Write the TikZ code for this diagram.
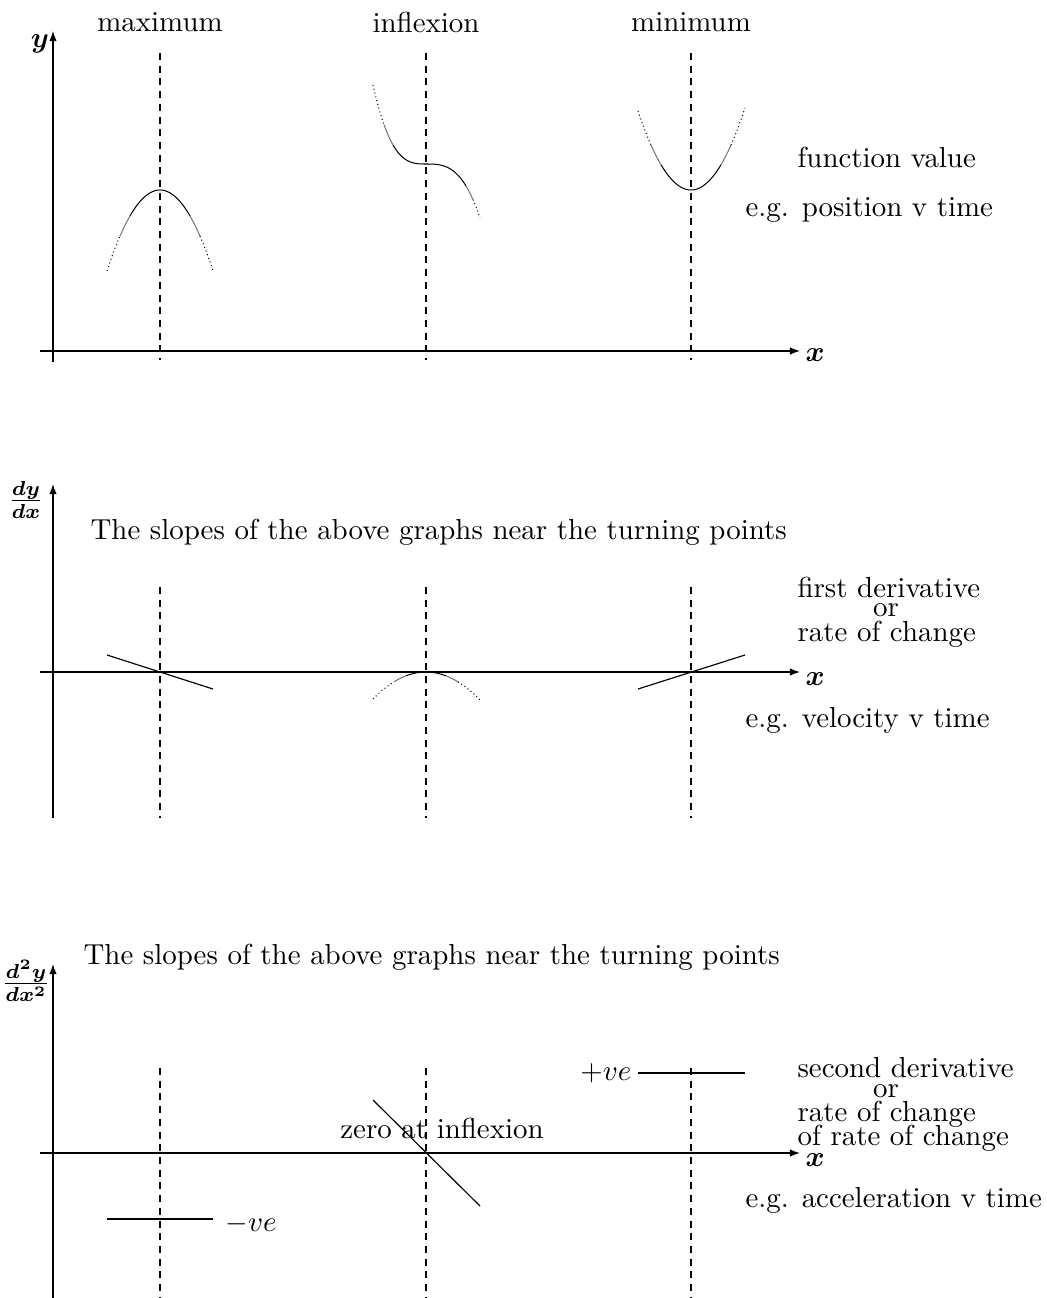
\documentclass[tikz,border=0pt]{standalone}
\usepackage{amsmath}
\usetikzlibrary{arrows.meta}
\begin{document}
\begin{tikzpicture}[x=0.346pt,y=-0.346pt,
  axis/.style={line width=0.45pt,-{Latex[length=3.5pt,width=2.6pt]}},
  guide/.style={dash pattern=on 2.4pt off 2pt,line width=0.4pt},
  curve/.style={line width=0.35pt},
  mid/.style={line width=0.35pt,black!55},
  fade/.style={line width=0.35pt,densely dotted},
  slope/.style={line width=0.4pt},
  txt/.style={inner sep=0pt,anchor=west},
  ctxt/.style={inner sep=0pt}]
\useasboundingbox (0,0) rectangle (1046,1298);

% ---------- top panel ----------
\coordinate (ya0) at (53,362); \coordinate (ya1) at (53,31);
\coordinate (xa0) at (40,351); \coordinate (xa1) at (800,351);
\draw[axis] (ya0) -- (ya1);
\draw[axis] (xa0) -- (xa1);
\node[ctxt] (yl) at (40,44) {$\boldsymbol{y}$};
\node[txt] (xl) at (805,355) {$\boldsymbol{x}$};
\foreach \n/\px in {a/160,b/426,c/691}{
  \coordinate (g1\n0) at (\px,53); \coordinate (g1\n1) at (\px,360);
  \draw[guide] (g1\n0) -- (g1\n1);
}
\node[ctxt] (tmax) at (160,22) {maximum};
\node[ctxt] (tinf) at (426,22) {inflexion};
\node[ctxt] (tmin) at (691,22) {minimum};
% maximum curve
\draw[curve] plot[domain=-30:30,samples=40] ({160+\x},{190+0.0288*\x*\x});
\draw[mid] plot[domain=-40:-30,samples=10] ({160+\x},{190+0.0288*\x*\x});
\draw[mid] plot[domain=30:40,samples=10] ({160+\x},{190+0.0288*\x*\x});
\draw[fade] plot[domain=-53:-40,samples=20] ({160+\x},{190+0.0288*\x*\x});
\draw[fade] plot[domain=40:53,samples=20] ({160+\x},{190+0.0288*\x*\x});
% inflexion curve (steeper on the left)
\draw[curve] plot[domain=-33:0,samples=40] ({426+\x},{164+0.531*(\x/10)^3});
\draw[curve] plot[domain=0:40,samples=40] ({426+\x},{164+0.343*(\x/10)^3});
\draw[mid] plot[domain=-42:-33,samples=10] ({426+\x},{164+0.531*(\x/10)^3});
\draw[mid] plot[domain=40:47,samples=10] ({426+\x},{164+0.343*(\x/10)^3});
\draw[fade] plot[domain=-53:-42,samples=20] ({426+\x},{164+0.531*(\x/10)^3});
\draw[fade] plot[domain=47:54,samples=20] ({426+\x},{164+0.343*(\x/10)^3});
% minimum curve
\draw[curve] plot[domain=-30:30,samples=40] ({691+\x},{190-0.0281*\x*\x});
\draw[mid] plot[domain=-40:-30,samples=10] ({691+\x},{190-0.0281*\x*\x});
\draw[mid] plot[domain=30:40,samples=10] ({691+\x},{190-0.0281*\x*\x});
\draw[fade] plot[domain=-53:-40,samples=20] ({691+\x},{190-0.0281*\x*\x});
\draw[fade] plot[domain=40:54,samples=20] ({691+\x},{190-0.0281*\x*\x});
\node[txt] (fv) at (797,157) {function value};
\node[txt] (pt) at (745,210) {e.g. position v time};

% ---------- middle panel ----------
\coordinate (yb0) at (53,818); \coordinate (yb1) at (53,484);
\coordinate (xb0) at (40,672); \coordinate (xb1) at (800,672);
\draw[axis] (yb0) -- (yb1);
\draw[axis] (xb0) -- (xb1);
\node[ctxt] (dyl) at (26,500) {$\boldsymbol{\frac{dy}{dx}}$};
\node[txt] (xl2) at (805,679) {$\boldsymbol{x}$};
\foreach \n/\px in {a/160,b/426,c/691}{
  \coordinate (g2\n0) at (\px,587); \coordinate (g2\n1) at (\px,818);
  \draw[guide] (g2\n0) -- (g2\n1);
}
\node[txt] (sl1) at (90,532) {The slopes of the above graphs near the turning points};
\coordinate (s1a) at (107,655); \coordinate (s1b) at (213,689);
\draw[slope] (s1a) -- (s1b);
\coordinate (s3a) at (638,689); \coordinate (s3b) at (745,655);
\draw[slope] (s3a) -- (s3b);
\draw[curve] plot[domain=-20:20,samples=20] ({426+\x},{672+0.00961*\x*\x});
\draw[mid] plot[domain=-32:-20,samples=10] ({426+\x},{672+0.00961*\x*\x});
\draw[mid] plot[domain=20:32,samples=10] ({426+\x},{672+0.00961*\x*\x});
\draw[fade] plot[domain=-53:-32,samples=20] ({426+\x},{672+0.00961*\x*\x});
\draw[fade] plot[domain=32:54,samples=20] ({426+\x},{672+0.00961*\x*\x});
\node[txt] (fd1) at (797,587) {first derivative};
\node[ctxt] (fd2) at (886,610) {or};
\node[txt] (fd3) at (797,634) {rate of change};
\node[txt] (vt) at (745,720) {e.g. velocity v time};

% ---------- bottom panel ----------
\coordinate (yc0) at (53,1298); \coordinate (yc1) at (53,964);
\coordinate (xc0) at (40,1153); \coordinate (xc1) at (800,1153);
\draw[axis] (yc0) -- (yc1);
\draw[axis] (xc0) -- (xc1);
\node[ctxt] (d2l) at (26,981) {$\boldsymbol{\frac{d^2y}{dx^2}}$};
\node[txt] (xl3) at (805,1160) {$\boldsymbol{x}$};
\foreach \n/\px in {a/160,b/426,c/691}{
  \coordinate (g3\n0) at (\px,1068); \coordinate (g3\n1) at (\px,1298);
  \draw[guide] (g3\n0) -- (g3\n1);
}
\node[txt] (sl2) at (83,957) {The slopes of the above graphs near the turning points};
\coordinate (n1a) at (107,1219); \coordinate (n1b) at (213,1219);
\draw[slope] (n1a) -- (n1b);
\node[txt] (neg) at (225,1224) {$-ve$};
\coordinate (p1a) at (638,1073); \coordinate (p1b) at (745,1073);
\draw[slope] (p1a) -- (p1b);
\node[inner sep=0pt,anchor=east] (pos) at (632,1073) {$+ve$};
\node[ctxt] (zi) at (442,1128) {zero at inflexion};
\coordinate (z1a) at (373,1100); \coordinate (z1b) at (480,1206);
\draw[slope] (z1a) -- (z1b);
\node[txt] (sd1) at (797,1068) {second derivative};
\node[ctxt] (sd2) at (886,1091) {or};
\node[txt] (sd3) at (797,1114) {rate of change};
\node[txt] (sd4) at (797,1138) {of rate of change};
\node[txt] (at) at (745,1200) {e.g. acceleration v time};
\end{tikzpicture}
\end{document}
